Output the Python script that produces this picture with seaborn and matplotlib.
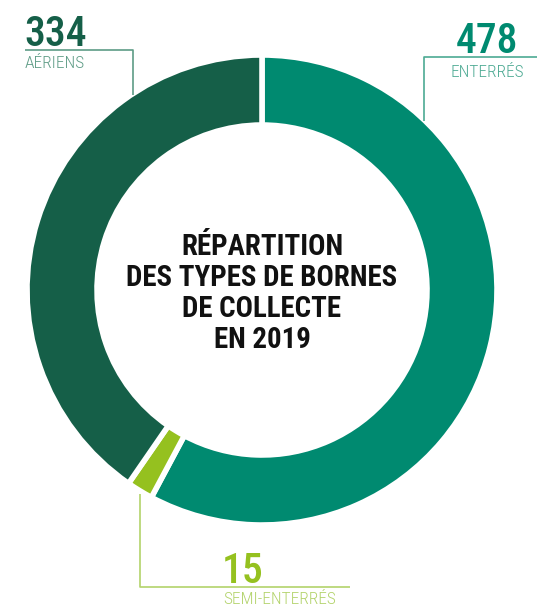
import matplotlib
matplotlib.use("Agg")
import matplotlib.pyplot as plt
import matplotlib.font_manager as fm
import numpy as np
import seaborn as sns

# data
labels = ["ENTERRÉS", "SEMI-ENTERRÉS", "AÉRIENS"]
counts = [478, 15, 334]
colors = ["#008a70", "#95c11f", "#155f48"]
label_colors = ["#4daa93", "#b3d36b", "#5e9c86"]
title_lines = ["RÉPARTITION", "DES TYPES DE BORNES", "DE COLLECTE", "EN 2019"]

sns.set_theme(style="white")
installed = {f.name for f in fm.fontManager.ttflist}
families = [f for f in ["Roboto Condensed", "DejaVu Sans Condensed", "Liberation Sans Narrow",
                        "Roboto", "DejaVu Sans"] if f in installed]
plt.rcParams["font.family"] = families
plt.rcParams["font.stretch"] = "condensed"

W, H = 537, 607
fig = plt.figure(figsize=(W / 100, H / 100), dpi=100)
ax = fig.add_axes([0, 0, 1, 1])

cx, cy, r = 262, H - 290, 235
wedges, _ = ax.pie(counts, colors=colors, startangle=90, counterclock=False,
                   center=(cx, cy), radius=r,
                   wedgeprops=dict(width=70, edgecolor="white", linewidth=4))
ax.set_xlim(0, W)
ax.set_ylim(0, H)
ax.set_aspect("equal")
ax.axis("off")

# centre title, one line at a time
for i, line in enumerate(title_lines):
    ax.text(cx, H - (255 + 31 * i), line, ha="center", va="baseline",
            fontsize=20.8, fontweight="bold", color="#111111")

line_kw = dict(lw=1.2, solid_capstyle="butt")
num_kw = dict(fontsize=30, fontweight="medium", va="baseline")
lab_kw = dict(fontsize=12.5, fontweight="light", va="baseline")

# aériens (top left)
ax.plot([25, 133, 133], [H - 50, H - 50, H - 95], color=label_colors[2], **line_kw)
ax.text(24, H - 46, str(counts[2]), color=colors[2], **num_kw)
ax.text(25, H - 68, labels[2], color=label_colors[2], **lab_kw)

# enterrés (top right)
ax.plot([W, 424, 424], [H - 57, H - 57, H - 121], color=label_colors[0], **line_kw)
ax.text(518, H - 53, str(counts[0]), color=colors[0], ha="right", **num_kw)
ax.text(450, H - 77, labels[0], color=label_colors[0], **lab_kw)

# semi-enterrés (bottom) - anchor on the wedge outer edge
w = wedges[1]
mid = np.deg2rad((w.theta1 + w.theta2) / 2)
ax_x = cx + r * np.cos(mid)
ax_y = cy + r * np.sin(mid)
ax.plot([ax_x, ax_x, 350], [ax_y - 3, H - 587, H - 587], color=label_colors[1], **line_kw)
ax.text(222, H - 583, str(counts[1]), color=colors[1], **num_kw)
ax.text(223, H - 604, labels[1], color=label_colors[1], **lab_kw)

fig.savefig("out.png", dpi=100)
